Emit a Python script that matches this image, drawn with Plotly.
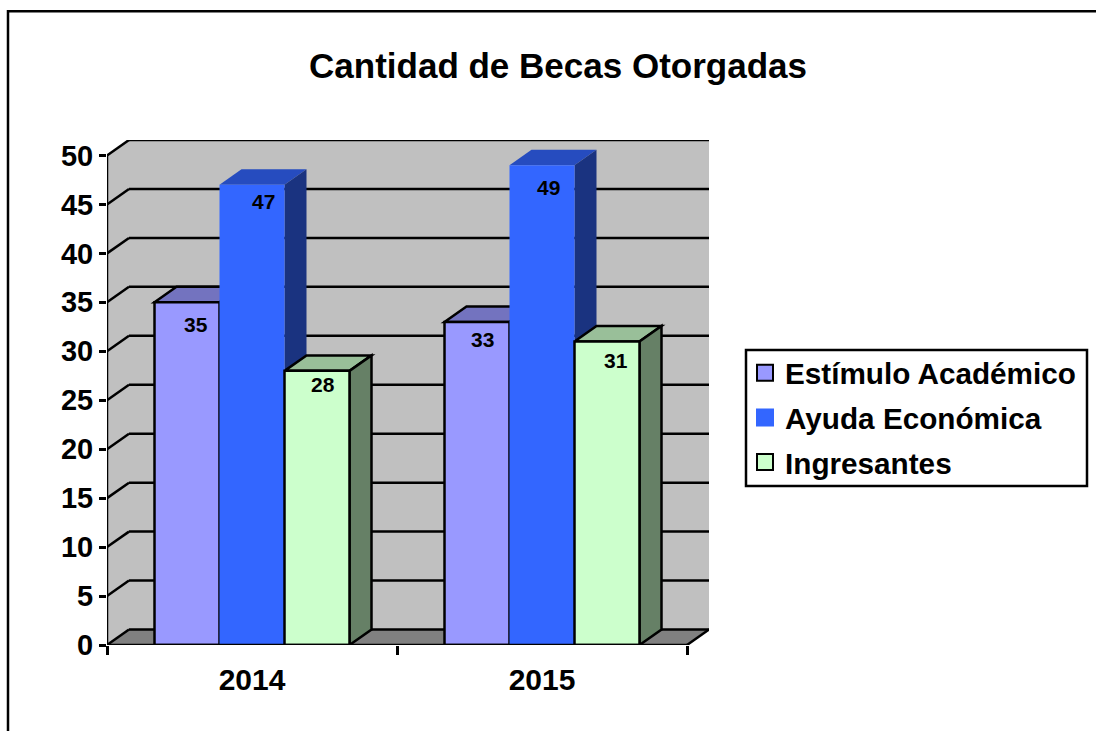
import plotly.graph_objects as go

years = ["2014", "2015"]
series_names = ["Estímulo Académico", "Ayuda Económica", "Ingresantes"]
estimulo = [35, 33]
ayuda = [47, 49]
ingresantes = [28, 31]
y_ticks = [0, 5, 10, 15, 20, 25, 30, 35, 40, 45, 50]

# front, top, side
colors = [("#9999FF", "#7373BF", "#4C4C80"),
          ("#3366FF", "#264CBF", "#1A3380"),
          ("#CCFFCC", "#99BF99", "#668066")]
outlines = ["black", None, "black"]

FONT = "Liberation Sans, Arial, sans-serif"
W, H = 1096, 731
LEFT, RIGHT, TOP, BOTTOM = 107, 709, 140, 645
PX_X = 290.0  # pixels per category
PX_Y = 9.8    # pixels per unit
DX = 22 / PX_X  # depth of the 3d box, in axis units
DY = 15.5 / PX_Y
BAR_W = 65 / PX_X
LW = 2.5
bar_lw = [LW, 0, LW]  # the blue series has no visible outline

values = [estimulo, ayuda, ingresantes]
# the labels sit off centre in the original, pixels
label_dx = [[9, 5], [11, 6], [6, 9]]
label_dy = [[-22, -18], [-17, -22], [-14, -19]]


def poly(xs, ys, fill, line=None, width=LW, layer="below"):
    path = "M" + "L".join(f"{x},{y}" for x, y in zip(xs, ys)) + "Z"
    return dict(type="path", path=path, xref="x", yref="y", fillcolor=fill,
                line=dict(color=line or fill, width=width), layer=layer)


def seg(x0, y0, x1, y1):
    return dict(type="line", x0=x0, y0=y0, x1=x1, y1=y1, xref="x", yref="y",
                line=dict(color="black", width=LW), layer="below")


def page_x(p):
    return (p - LEFT) / (RIGHT - LEFT)


def page_y(p):
    return (BOTTOM - p) / (BOTTOM - TOP)


shapes = []
# back wall, side wall, floor
shapes.append(poly([DX, 2 + DX, 2 + DX, DX], [DY, DY, 50 + DY, 50 + DY], "#C0C0C0", width=0))
shapes.append(poly([0, DX, DX, 0], [0, DY, 50 + DY, 50], "#C0C0C0", width=0))
shapes.append(poly([0, 2, 2 + DX, DX], [0, 0, DY, DY], "#808080", width=0))
for v in y_ticks:
    shapes.append(seg(0, v, DX, v + DY))
    shapes.append(seg(DX, v + DY, 2 + DX, v + DY))
shapes.append(seg(2, 0, 2 + DX, DY))

# top and side faces, painted left to right so nearer bars cover the others
for c in range(len(years)):
    for s in range(3):
        x0 = c + 0.5 + (s - 1.5) * BAR_W
        x1 = x0 + BAR_W
        v = values[s][c]
        shapes.append(poly([x0, x1, x1 + DX, x0 + DX], [v, v, v + DY, v + DY], colors[s][1],
                           line=outlines[s], width=bar_lw[s]))
        shapes.append(poly([x1, x1 + DX, x1 + DX, x1], [0, DY, v + DY, v], colors[s][2],
                           line=outlines[s], width=bar_lw[s]))

# chart frame, cut off by the page at the right and bottom
shapes.append(dict(type="path", xref="paper", yref="paper",
                   path=f"M{page_x(8)},{page_y(735)}L{page_x(8)},{page_y(11.3)}L{page_x(1100)},{page_y(11.3)}",
                   line=dict(color="black", width=LW)))
# legend box
shapes.append(dict(type="rect", xref="paper", yref="paper", x0=page_x(746), x1=page_x(1087),
                   y0=page_y(486), y1=page_y(350), line=dict(color="black", width=LW)))

fig = go.Figure()
annotations = []
for s in range(3):
    xs = [c + 0.5 + (s - 1) * BAR_W for c in range(len(years))]
    fig.add_trace(go.Bar(x=xs, y=values[s], width=BAR_W, showlegend=False, hoverinfo="skip", cliponaxis=False,
                         marker=dict(color=colors[s][0], line=dict(color=outlines[s] or colors[s][0], width=bar_lw[s]))))
    for c in range(len(years)):
        annotations.append(dict(x=xs[c], y=values[s][c], text=str(values[s][c]), showarrow=False,
                                xshift=label_dx[s][c], yshift=label_dy[s][c], yanchor="middle",
                                font=dict(family=FONT, size=21, color="black", weight="bold")))

# axis lines on top of the bars
fig.add_trace(go.Scatter(x=[0, 2], y=[0, 0], mode="lines", line=dict(color="black", width=LW),
                         cliponaxis=False, showlegend=False, hoverinfo="skip"))
fig.add_trace(go.Scatter(x=[0, 0], y=[0, 50], mode="lines", line=dict(color="black", width=LW),
                         cliponaxis=False, showlegend=False, hoverinfo="skip"))

# legend entries, scatter markers since bar swatches have a fixed small size
for s in range(3):
    fig.add_trace(go.Scatter(x=[None], y=[None], mode="markers", name=series_names[s], legendgroup=series_names[s],
                             marker=dict(symbol="square", size=16, color=colors[s][0],
                                         line=dict(color=outlines[s] or colors[s][0], width=2))))

fig.update_layout(
    width=W, height=H,
    margin=dict(l=LEFT, r=W - RIGHT, t=TOP, b=H - BOTTOM, autoexpand=False),
    plot_bgcolor="white", paper_bgcolor="white",
    barmode="overlay", shapes=shapes, annotations=annotations,
    font=dict(family=FONT, color="black"),
    title=dict(text="<b>Cantidad de Becas Otorgadas</b>", x=558 / W, xref="container", xanchor="center",
               y=1 - 66 / H, yanchor="middle", font=dict(family=FONT, size=35, color="black")),
    legend=dict(xref="container", yref="container", x=745 / W, y=1 - 347 / H, xanchor="left", yanchor="top",
                borderwidth=0, bgcolor="rgba(0,0,0,0)", tracegroupgap=3,
                font=dict(family=FONT, size=29.7, color="black", weight="bold")),
    xaxis=dict(range=[0, 2 + DX], showgrid=False, zeroline=False, tickvals=[0.5, 1.5], ticktext=years,
               ticks="", ticklen=0, ticklabelstandoff=14,
               tickfont=dict(family=FONT, size=30, color="black", weight="bold"),
               minor=dict(tickvals=[0, 1, 2], ticks="outside", ticklen=9, tickwidth=LW, tickcolor="black")),
    yaxis=dict(range=[0, 50 + DY], showgrid=False, zeroline=False, tickvals=y_ticks,
               ticks="outside", ticklen=7, tickwidth=LW, tickcolor="black",
               tickfont=dict(family=FONT, size=29, color="black", weight="bold")),
)

fig.write_html("out.html", config=dict(displayModeBar=False), post_script="document.body.style.margin='0';")
